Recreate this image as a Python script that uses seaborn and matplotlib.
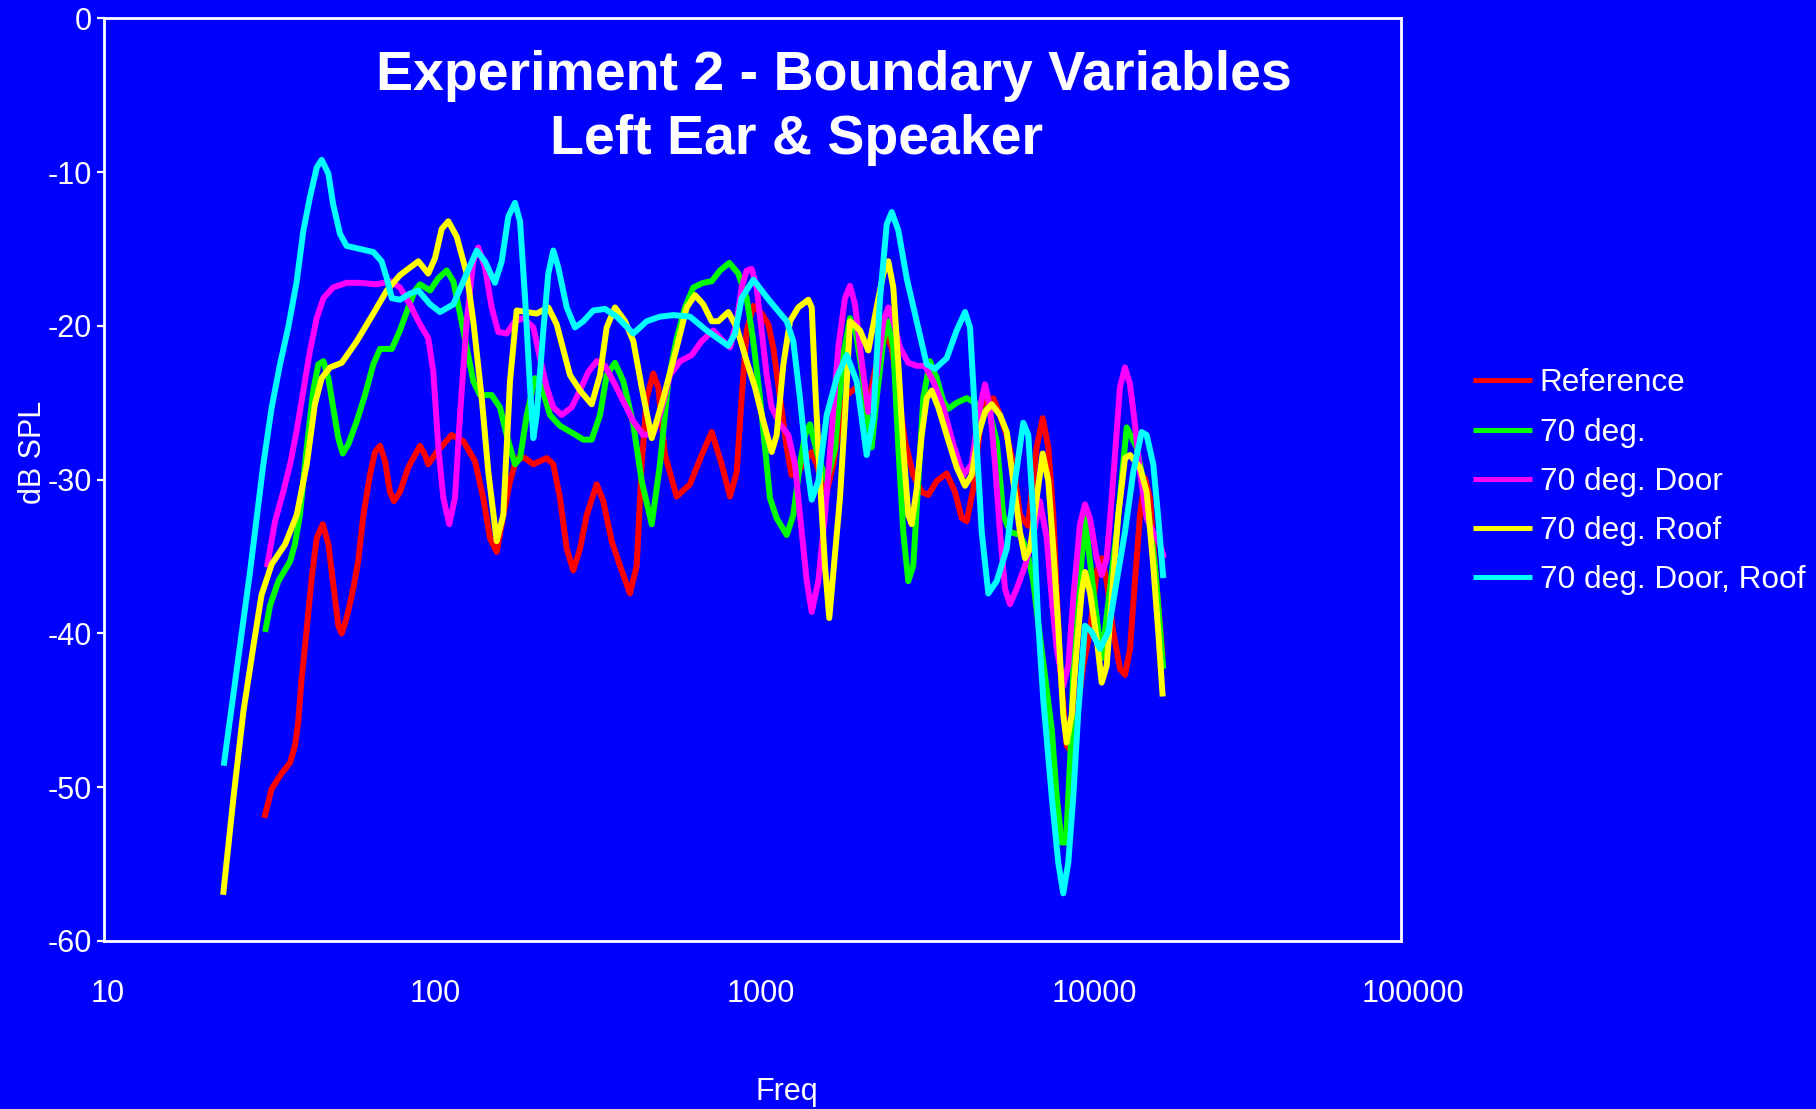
import numpy as np
import pandas as pd
import matplotlib
matplotlib.use("Agg")
import matplotlib.pyplot as plt
from matplotlib.ticker import FixedLocator, FixedFormatter, NullLocator
from matplotlib.transforms import ScaledTranslation
import seaborn as sns

# ---- measured responses (frequency in Hz, level in dB SPL) ----
ref_freq = [31.2, 32.9, 35.3, 37.5, 38.8, 39.7, 40.7, 41.7, 42.7, 43.7, 45.3, 47.3, 49.2, 50.4, 52.8, 54.1,
            56.0, 58.7, 60.8, 63.1, 66.1, 68.5, 71.0, 73.6, 76.2, 78.4, 81.8, 86.8, 94.3, 97.7, 100.0, 106.2,
            118.1, 128.3, 139.4, 147.8, 155.0, 162.6, 170.4, 178.7, 187.4, 198.9, 210.9, 231.9, 243.0, 254.9,
            267.3, 280.2, 293.8, 308.1, 330.8, 346.7, 367.9, 390.3, 419.0, 439.4, 455.3, 471.7, 494.4, 512.2,
            537.2, 583.8, 641.5, 697.0, 748.4, 803.5, 852.2, 893.7, 925.9, 959.5, 1006, 1067, 1119, 1159, 1216,
            1275, 1320, 1384, 1452, 1523, 1578, 1635, 1694, 1775, 1861, 1952, 2096, 2197, 2303, 2443, 2562,
            2688, 2817, 2953, 3132, 3325, 3484, 3699, 3971, 4212, 4418, 4577, 4796, 5030, 5276, 5530, 5798,
            6081, 6373, 6682, 7073, 7523, 7852, 8173, 8466, 8879, 9311, 9647, 9996, 10471, 10982, 11521,
            11938, 12371, 12966, 13592, 14085, 14597, 15118, 15668, 16233, 16818, 17430, 18400]
ref_db = [-52.0, -50.1, -49.1, -48.4, -47.3, -45.8, -42.9, -40.8, -38.6, -36.4, -33.8, -32.9, -34.2, -36.0,
          -39.5, -40.0, -39.0, -37.1, -35.3, -32.3, -29.7, -28.2, -27.8, -28.8, -30.8, -31.4, -30.8, -29.2,
          -27.8, -28.4, -29.0, -28.2, -27.1, -27.5, -28.8, -31.2, -33.8, -34.7, -32.3, -30.1, -28.6, -28.6,
          -29.0, -28.6, -29.0, -31.2, -34.5, -35.9, -34.5, -32.3, -30.3, -31.4, -34.0, -35.6, -37.4, -35.6,
          -29.0, -24.7, -23.1, -24.0, -28.4, -31.1, -30.3, -28.4, -26.9, -29.0, -31.1, -29.5, -24.7, -20.3,
          -18.7, -19.2, -19.9, -21.4, -24.7, -27.9, -29.7, -29.5, -28.8, -28.2, -29.0, -30.1, -30.8, -29.0,
          -26.2, -24.5, -24.0, -24.5, -24.5, -21.9, -20.5, -21.4, -24.5, -27.5, -29.7, -30.8, -31.0, -30.1,
          -29.6, -30.8, -32.5, -32.7, -30.6, -26.6, -24.9, -24.7, -25.8, -27.1, -29.0, -32.3, -33.0, -27.9,
          -26.0, -27.9, -32.3, -42.1, -47.3, -47.7, -45.3, -42.1, -39.9, -36.0, -35.1, -36.6, -39.9, -42.3,
          -42.7, -41.0, -36.6, -32.3, -29.9, -31.2, -35.6, -41.5]

deg70_freq = [31.4, 32.5, 34.5, 37.5, 38.8, 40.2, 42.2, 44.2, 45.8, 47.5, 49.2, 50.9, 52.8, 54.5, 56.7, 60.2,
              63.8, 67.7, 71.0, 77.2, 81.8, 86.8, 91.0, 94.3, 101.3, 107.4, 114.0, 119.5, 125.3, 131.4, 137.7,
              144.4, 156.9, 166.4, 174.5, 185.1, 191.9, 201.3, 213.4, 223.8, 237.4, 254.9, 280.2, 300.8, 319.2,
              338.6, 355.1, 376.7, 399.5, 429, 455.3, 488.9, 518.4, 550, 583.8, 619.3, 656.9, 705.1, 748.4,
              793.9, 848.2, 904, 959.5, 1006, 1055, 1093, 1132, 1187, 1275, 1336, 1401, 1452, 1504, 1592, 1694,
              1796, 1902, 1998, 2086, 2176, 2255, 2331, 2415, 2532, 2623, 2718, 2817, 2917, 3023, 3132, 3246,
              3363, 3527, 3699, 3877, 4017, 4263, 4577, 4856, 5092, 5337, 5665, 5935, 6225, 6682, 7008, 7343,
              7607, 8372, 8673, 8984, 9264, 9417, 9647, 9757, 10603, 11222, 11938, 13277, 14257, 15298, 16429,
              17430, 18486]
deg70_db = [-39.9, -38.2, -36.6, -35.3, -34.2, -32.3, -27.9, -24.2, -22.5, -22.3, -23.4, -25.3, -27.3, -28.3,
            -27.7, -26.2, -24.5, -22.5, -21.5, -21.5, -20.3, -18.8, -17.7, -17.3, -17.7, -16.9, -16.4, -17.1,
            -19.2, -21.4, -23.6, -24.5, -24.5, -25.3, -27.1, -29.0, -28.6, -25.8, -23.4, -24.0, -25.8, -26.5,
            -27.0, -27.4, -27.4, -25.8, -23.2, -22.4, -23.6, -26.4, -30.1, -32.9, -29.0, -23.6, -20.8, -18.8,
            -17.5, -17.2, -17.1, -16.4, -15.9, -16.6, -18.2, -21.0, -24.7, -27.9, -31.2, -32.5, -33.6, -32.3,
            -29.0, -27.1, -26.4, -28.5, -30.1, -28.0, -22.0, -19.5, -20.5, -23.0, -25.8, -27.9, -24.7, -21.0,
            -19.7, -21.4, -27.9, -33.4, -36.6, -35.6, -30.1, -24.7, -22.3, -23.4, -24.9, -25.4, -25.0, -24.7,
            -25.0, -25.8, -25.3, -27.5, -32.3, -33.4, -33.6, -34.5, -36.6, -39.3, -46.2, -50.6, -53.6, -53.6,
            -50.6, -46.2, -41.9, -32.5, -37.0, -41.6, -33.4, -26.6, -27.9, -31.2, -35.6, -42.3]

door_freq = [31.8, 33.7, 35.7, 37.5, 39.3, 41.2, 43.2, 45.3, 47.5, 50.9, 56.0, 61.6, 69.3, 76.2, 81.8, 87.8,
             94.3, 100.0, 103.7, 107.4, 111.3, 116.1, 120.9, 125.3, 131.4, 137.7, 142.7, 149.6, 156.9, 164.4,
             174.5, 185.1, 196.4, 210.9, 221.1, 231.9, 243.0, 257.9, 276.9, 293.8, 311.6, 330.8, 350.9, 372.2,
             399.5, 429, 460.5, 494.4, 518.4, 556.6, 597.6, 649.3, 697.0, 756.9, 812.6, 852.2, 893.7, 925.9,
             959.5, 994.3, 1030, 1067, 1106, 1146, 1216, 1290, 1352, 1401, 1470, 1523, 1596, 1673, 1754, 1839,
             1929, 1998, 2071, 2146, 2276, 2415, 2532, 2623, 2718, 2850, 3023, 3209, 3404, 3610, 3877, 4161,
             4468, 4742, 4971, 5212, 5401, 5596, 5798, 6008, 6225, 6527, 6925, 7343, 7700, 8077, 8372, 8673,
             9087, 9417, 9757, 10233, 10603, 10982, 11521, 11938, 12371, 12818, 13277, 13592, 14085, 14597,
             15118, 15668, 16429, 17219, 18060, 18578]
door_db = [-35.7, -32.7, -30.8, -29.0, -26.8, -24.2, -21.6, -19.5, -18.2, -17.5, -17.2, -17.2, -17.3, -17.1,
           -17.5, -18.6, -19.9, -20.8, -23.0, -27.9, -31.2, -32.9, -31.2, -25.8, -19.7, -15.8, -14.9, -16.2,
           -18.8, -20.4, -20.5, -19.7, -19.5, -20.1, -22.1, -24.0, -25.3, -25.8, -25.3, -24.2, -23.0, -22.3,
           -22.6, -23.6, -24.9, -26.2, -27.1, -27.0, -25.8, -23.2, -22.3, -21.9, -21.0, -20.3, -21.0, -21.4,
           -19.7, -17.5, -16.4, -16.3, -17.5, -20.3, -23.2, -25.3, -26.4, -27.1, -29.0, -32.3, -36.6, -38.6,
           -36.6, -32.3, -26.9, -21.4, -18.2, -17.4, -18.6, -21.4, -25.6, -23.2, -19.7, -18.8, -19.7, -21.4,
           -22.4, -22.6, -22.6, -23.6, -25.3, -27.7, -29.7, -29.0, -25.8, -23.8, -25.3, -29.0, -33.4, -37.1,
           -38.1, -37.1, -35.6, -33.6, -31.4, -33.8, -37.7, -41.0, -43.4, -42.1, -37.7, -32.9, -31.6, -32.5,
           -35.1, -36.2, -35.1, -31.2, -26.9, -24.0, -22.7, -23.8, -26.4, -29.5, -32.5, -33.4, -34.2, -35.1]

roof_freq = [23.3, 25.1, 26.9, 28.9, 30.6, 32.9, 36.2, 39.3, 42.2, 44.7, 46.9, 49.8, 54.1, 60.2, 67.7, 74.5,
             81.8, 93.2, 100.0, 104.9, 110.0, 115.3, 122.4, 131.4, 137.7, 146.2, 153.2, 162.6, 170.4, 178.7,
             187.4, 201.3, 216.0, 234.6, 248.9, 273.6, 293.8, 319.2, 338.6, 355.1, 376.7, 404.6, 429, 455.3,
             488.9, 530.8, 583.8, 626.7, 664.8, 705.1, 748.4, 784.4, 842.1, 893.7, 959.5, 1018, 1080, 1146,
             1187, 1245, 1305, 1384, 1486, 1523, 1558, 1615, 1673, 1725, 1861, 1929, 1998, 2146, 2276, 2415,
             2532, 2623, 2718, 2817, 2917, 3023, 3097, 3209, 3325, 3445, 3569, 3741, 3971, 4263, 4523, 4742,
             4971, 5212, 5467, 5798, 6081, 6373, 6682, 6925, 7176, 7523, 7852, 8173, 8466, 8770, 9087, 9311,
             9647, 9996, 10357, 10603, 10982, 11521, 11938, 12371, 12818, 13430, 14085, 14597, 15668, 16429,
             17219, 17842, 18408]
roof_db = [-57.0, -50.6, -45.1, -40.8, -37.5, -35.5, -34.2, -32.3, -29.0, -25.1, -23.4, -22.7, -22.4, -21.0,
           -19.2, -17.7, -16.7, -15.8, -16.6, -15.6, -13.7, -13.2, -14.2, -16.6, -19.7, -24.7, -29.5, -34.0,
           -32.3, -23.6, -19.0, -19.1, -19.2, -18.8, -19.9, -23.2, -24.2, -25.1, -23.2, -20.1, -18.8, -19.7,
           -21.0, -24.0, -27.3, -24.7, -21.4, -18.8, -18.0, -18.6, -19.7, -19.7, -19.1, -20.1, -22.3, -24.0,
           -26.2, -28.2, -27.1, -22.5, -19.7, -18.8, -18.3, -18.8, -23.6, -30.1, -35.6, -39.0, -31.2, -25.8,
           -19.7, -20.3, -21.6, -18.8, -16.6, -15.8, -17.5, -22.5, -27.9, -32.3, -32.9, -30.6, -27.1, -24.7,
           -24.2, -25.3, -27.1, -29.2, -30.4, -29.7, -27.1, -25.6, -25.1, -25.8, -26.9, -30.1, -33.4, -35.1,
           -34.5, -31.2, -28.3, -30.1, -34.5, -39.6, -45.3, -47.1, -45.3, -41.0, -37.3, -36.0, -37.3, -40.3,
           -43.2, -42.1, -37.7, -32.3, -28.6, -28.4, -29.2, -30.8, -35.6, -39.9, -44.1]

door_roof_freq = [23.4, 28.2, 31.0, 32.9, 34.9, 37.0, 39.3, 41.2, 43.2, 45.3, 46.9, 49.2, 50.9, 53.4, 56.0,
                  61.6, 67.7, 71.8, 74.5, 77.2, 81.8, 87.8, 93.2, 101.3, 108.7, 119.5, 128.3, 141.1, 149.6,
                  160.6, 168.5, 176.6, 185.1, 191.9, 198.9, 206.0, 210.9, 216.0, 226.4, 234.6, 243.0, 251.8,
                  267.3, 283.5, 300.8, 322.8, 350.9, 381.3, 429, 471.7, 518.4, 569.8, 641.5, 722.4, 842.1,
                  883.1, 925.9, 1006, 1132, 1275, 1336, 1401, 1470, 1523, 1596, 1694, 1818, 1952, 2096, 2250,
                  2358, 2474, 2594, 2688, 2817, 2989, 3209, 3445, 3654, 3971, 4263, 4523, 4686, 4856, 5092,
                  5337, 5665, 6081, 6449, 6841, 7088, 7343, 7607, 7886, 8372, 8770, 9087, 9417, 9757, 10110,
                  10603, 11117, 11792, 12509, 13277, 14085, 14940, 15856, 16429, 17219, 17842, 18486]
door_roof_db = [-48.6, -36.0, -29.0, -25.3, -22.5, -20.1, -17.1, -13.8, -11.6, -9.7, -9.2, -10.1, -12.1, -14.0,
                -14.8, -15.0, -15.2, -15.8, -16.9, -18.2, -18.3, -17.9, -17.7, -18.6, -19.1, -18.6, -17.1,
                -15.1, -15.8, -17.2, -15.8, -12.9, -12.0, -13.2, -18.2, -24.0, -27.3, -25.8, -20.3, -16.6,
                -15.1, -16.2, -18.8, -20.1, -19.7, -19.0, -18.9, -19.4, -20.5, -19.7, -19.4, -19.3, -19.4,
                -20.3, -21.3, -20.5, -18.2, -17.0, -18.4, -19.7, -21.0, -24.7, -29.0, -31.3, -30.1, -25.8,
                -23.4, -21.9, -23.6, -28.4, -26.0, -18.2, -13.4, -12.6, -13.8, -16.9, -19.7, -22.5, -22.8,
                -22.1, -20.3, -19.1, -20.1, -25.8, -33.4, -37.4, -36.6, -34.5, -30.1, -26.3, -27.1, -32.3,
                -39.3, -44.3, -50.6, -54.9, -56.9, -54.9, -50.6, -45.1, -39.5, -39.9, -41.0, -39.9, -36.6,
                -33.4, -29.5, -26.9, -27.1, -29.0, -32.5, -36.4]

series_names = ["Reference", "70 deg.", "70 deg. Door", "70 deg. Roof", "70 deg. Door, Roof"]
series_colors = ["#FF0000", "#00FF00", "#FF00FF", "#FFFF00", "#00FFFF"]
x_ticks = [10, 100, 1000, 10000, 100000]
x_tick_labels = ["10", "100", "1000", "10000", "100000"]
y_ticks = [0, -10, -20, -30, -40, -50, -60]
y_tick_labels = ["0", "-10", "-20", "-30", "-40", "-50", "-60"]

frames = []
for name, fr, db in zip(series_names,
                        [ref_freq, deg70_freq, door_freq, roof_freq, door_roof_freq],
                        [ref_db, deg70_db, door_db, roof_db, door_roof_db]):
    frames.append(pd.DataFrame({"Freq": fr, "dB SPL": db, "series": name}))
df = pd.concat(frames, ignore_index=True)

BLUE = "#0000FF"
WHITE = "#FFFFFF"

sns.set_style("ticks")
plt.rcParams["font.family"] = ["Liberation Sans", "DejaVu Sans"]

fig = plt.figure(figsize=(18.16, 11.09), dpi=100, facecolor=BLUE)
ax = fig.add_axes([104 / 1816, 1 - 941 / 1109, 1297 / 1816, 922.7 / 1109])
ax.set_facecolor(BLUE)

sns.lineplot(data=df, x="Freq", y="dB SPL", hue="series", hue_order=series_names,
             palette=dict(zip(series_names, series_colors)), estimator=None, sort=False,
             linewidth=4.3, ax=ax)
for line in ax.get_lines():
    line.set_solid_joinstyle("round")
    line.set_solid_capstyle("butt")

ax.set_xscale("log")
ax.set_xlim(10, 100000)
ax.set_ylim(-60, 0)
ax.xaxis.set_major_locator(FixedLocator(x_ticks))
ax.xaxis.set_major_formatter(FixedFormatter(x_tick_labels))
ax.xaxis.set_minor_locator(NullLocator())
ax.yaxis.set_major_locator(FixedLocator(y_ticks))
ax.yaxis.set_major_formatter(FixedFormatter(y_tick_labels))

for side in ["left", "right", "top", "bottom"]:
    ax.spines[side].set_visible(True)
    ax.spines[side].set_color(WHITE)
    ax.spines[side].set_linewidth(2.0)

ax.tick_params(axis="y", direction="out", length=5.3, width=1.6, color=WHITE,
               labelcolor=WHITE, labelsize=22, pad=3.4)
ax.tick_params(axis="x", length=0, labelcolor=WHITE, labelsize=22, pad=27)

# category-axis style label placement: labels sit slightly right of their decade
label_shift_px = [4, 7, 8, 18, 12]
for lab, dx in zip(ax.get_xticklabels(), label_shift_px):
    lab.set_transform(lab.get_transform() + ScaledTranslation(dx / 100, 0, fig.dpi_scale_trans))

ax.set_xlabel("Freq", color=WHITE, fontsize=22)
ax.xaxis.set_label_coords(0.5266, -0.147)
ax.set_ylabel("dB SPL", color=WHITE, fontsize=22)
ax.yaxis.set_label_coords(-0.0432, 0.530)

fig.text(834 / 1816, 1 - 90.3 / 1109, "Experiment 2 - Boundary Variables", ha="center",
         va="baseline", fontsize=40, fontweight="bold", color=WHITE)
fig.text(797 / 1816, 1 - 154 / 1109, "Left Ear & Speaker", ha="center",
         va="baseline", fontsize=40, fontweight="bold", color=WHITE)

handles, labels = ax.get_legend_handles_labels()
if ax.get_legend() is not None:
    ax.get_legend().remove()
for h in handles:
    h.set_linewidth(3.6)
fig.legend(handles, labels, loc="upper left", bbox_to_anchor=(1473 / 1816, 1 - 368.4 / 1109),
           bbox_transform=fig.transFigure, frameon=False, borderpad=0, borderaxespad=0,
           handlelength=1.87, handletextpad=0.25, labelspacing=0.61, fontsize=22.7,
           labelcolor=WHITE)

fig.savefig("out.png", dpi=100, facecolor=BLUE)
